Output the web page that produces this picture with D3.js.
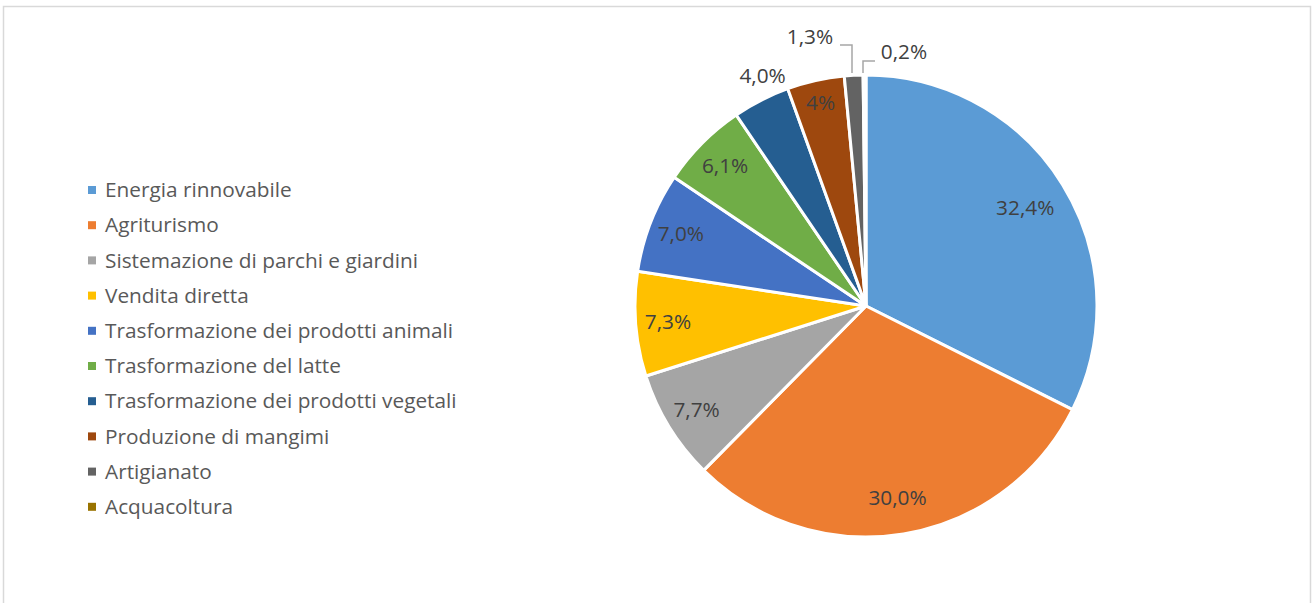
<!DOCTYPE html>
<html><head><meta charset="utf-8">
<script src="https://cdn.jsdelivr.net/npm/d3@7"></script>
<style>body{margin:0;background:#fff}svg{display:block}text{font-family:"Open Sans","Liberation Sans",sans-serif}</style>
</head><body><svg id="c" width="1314" height="603"></svg>
<script>
const categories = ["Energia rinnovabile","Agriturismo","Sistemazione di parchi e giardini","Vendita diretta","Trasformazione dei prodotti animali","Trasformazione del latte","Trasformazione dei prodotti vegetali","Produzione di mangimi","Artigianato","Acquacoltura"];
const values = [32.4, 30.0, 7.7, 7.3, 7.0, 6.1, 4.0, 4.0, 1.3, 0.2];
const labels = ["32,4%","30,0%","7,7%","7,3%","7,0%","6,1%","4,0%","4%","1,3%","0,2%"];
const colors = ["#5B9BD5","#ED7D31","#A5A5A5","#FFC000","#4472C4","#70AD47","#255E91","#9E480E","#636363","#997300"];

const svg = d3.select("#c");
svg.append("rect").attr("x",3.5).attr("y",6.5).attr("width",1307).attr("height",610)
  .attr("fill","#fff").attr("stroke","#d9d9d9").attr("stroke-width",1.5);

const cx = 866, cy = 306, r = 231;
const pie = d3.pie().sort(null).value(d=>d)(values);
const arc = d3.arc().innerRadius(0).outerRadius(r);
const g = svg.append("g").attr("transform",`translate(${cx},${cy})`);
g.selectAll("path").data(pie).join("path")
  .attr("d",arc).attr("fill",(d,i)=>colors[i]).attr("stroke","#fff").attr("stroke-width",3).attr("stroke-linejoin","round");

const fs = 20.8;
const pos = (d, k) => { const a=(d.startAngle+d.endAngle)/2; return [Math.sin(a)*r*k, -Math.cos(a)*r*k]; };
pie.forEach((d,i)=>{
  let p;
  if (i===6) { p = pos(d,1.12); p[0]+=14; }
  else if (i===8) { p=[-56,-269]; }
  else if (i===9) { p=[38,-254]; }
  else if (i===7) p = pos(d,0.9);
  else if (values[i]>20) p = pos(d, i===0?0.81:0.84);
  else p = pos(d,0.86);
  g.append("text").attr("x",p[0]).attr("y",p[1]).attr("text-anchor","middle").attr("dy","0.35em")
    .attr("font-size",fs).attr("fill","#404040").text(labels[i]);
});
g.append("path").attr("d","M-26,-261H-14V-233").attr("fill","none").attr("stroke","#a6a6a6").attr("stroke-width",1.5);
g.append("path").attr("d","M-3,-233V-245H9").attr("fill","none").attr("stroke","#a6a6a6").attr("stroke-width",1.5);

const lg = svg.append("g");
categories.forEach((c,i)=>{
  const y = 190 + i*35.2;
  lg.append("rect").attr("x",88).attr("y",y-4).attr("width",8).attr("height",8).attr("fill",colors[i]);
  lg.append("text").attr("x",105).attr("y",y).attr("dy","0.35em").attr("font-size",fs).attr("fill","#595959").text(c);
});
</script></body></html>
